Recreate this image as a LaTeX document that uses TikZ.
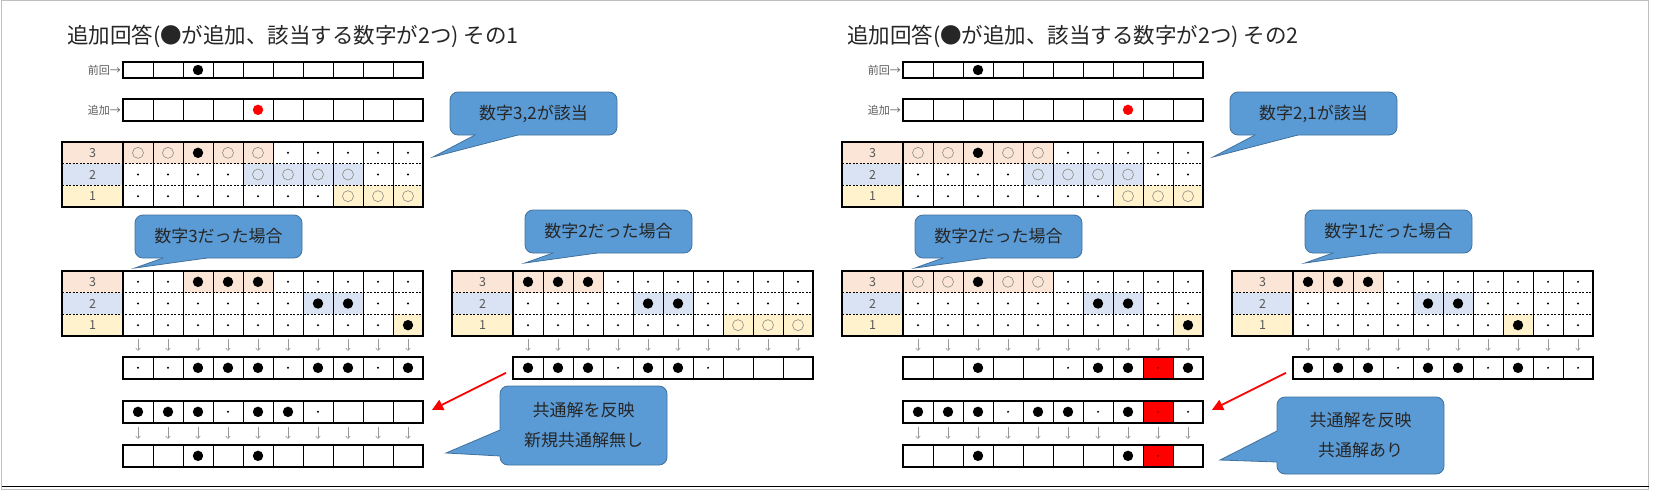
\documentclass[tikz,border=0pt]{standalone}
\usepackage{fontspec}
\setmainfont{Noto Sans CJK JP}
\usepackage{tikz}
\usetikzlibrary{arrows.meta,calc}

\definecolor{shThree}{HTML}{FBE5D6}
\definecolor{shTwo}{HTML}{DAE3F3}
\definecolor{shOne}{HTML}{FFF2CC}
\definecolor{callBlue}{HTML}{5B9BD5}
\definecolor{callEdge}{HTML}{41719C}
\definecolor{labGray}{HTML}{595959}
\definecolor{ringGray}{HTML}{8C8C84}
\colorlet{rowcol}{white}

\tikzset{
  rowbox/.style={draw, line width=2pt, inner sep=0pt, outer sep=0pt, minimum width=300pt},
  tablebox/.style={draw, line width=2.2pt, inner sep=0pt, outer sep=0pt, minimum width=361pt, minimum height=65pt},
  cellline/.style={line width=0.8pt},
  rowsep/.style={line width=0.8pt, dash pattern=on 2pt off 1.5pt},
  colsep/.style={line width=2pt},
  downarr/.style={gray!80, line width=0.6pt, -{Straight Barb[length=2.5pt,width=4.5pt]}},
  redarr/.style={red, line width=1.8pt, -{Triangle[length=11pt,width=11pt]}},
  numlab/.style={text=labGray, font=\fontsize{12.5}{14}\selectfont, inner sep=0pt},
  sidelab/.style={text=labGray, font=\fontsize{11}{13}\selectfont, inner sep=1pt},
  heading/.style={text=black!85, font=\fontsize{21.5}{26}\selectfont, inner sep=0pt},
  callline/.style={draw=callEdge, line width=0.8pt},
  calltext/.style={text=black!85, font=\fontsize{17}{30}\selectfont, align=center, inner sep=0pt},
  % cell marks
  pics/no/.style={code={}},
  pics/dt/.style={code={\fill (0,0) circle (1.1pt);}},
  pics/bk/.style={code={\fill (0,0) circle (5.2pt);}},
  pics/rd/.style={code={\fill[red] (0,0) circle (5.2pt);}},
  pics/sb/.style={code={\fill[rowcol] (-15,-10.83) rectangle (15,10.83); \fill (0,0) circle (5.2pt);}},
  pics/so/.style={code={\fill[rowcol] (-15,-10.83) rectangle (15,10.83); \draw[ringGray, line width=0.6pt] (0,0) circle (5.5pt);}},
  pics/rc/.style={code={\fill[red] (-15,-10.83) rectangle (15,10.83); \fill[black!55!red] (0,0) circle (1pt);}},
}

% one row of ten cells: name, x, y, height, marks
\newcommand{\cellrow}[5]{%
  \foreach \mk [count=\i from 0] in {#5}
    \pic at ({#2+30*\i+15},{#3+#4/2}) {\mk};
  \foreach \i in {1,...,9}
    \draw[cellline] ({#2+30*\i},#3) -- ++(0,#4);
  \node[rowbox, minimum height=#4pt, anchor=north west] (#1) at (#2,#3) {};
}

% table with rows 3,2,1: name, x, y, marks of each row
\newcommand{\numtable}[6]{%
  \fill[shThree] (#2,#3) rectangle ++(61,21.67);
  \fill[shTwo] (#2,{#3+21.67}) rectangle ++(61,21.67);
  \fill[shOne] (#2,{#3+43.33}) rectangle ++(61,21.67);
  \node[numlab] (#1-3) at ({#2+30.5},{#3+10.83}) {3};
  \node[numlab] (#1-2) at ({#2+30.5},{#3+32.5}) {2};
  \node[numlab] (#1-1) at ({#2+30.5},{#3+54.17}) {1};
  \colorlet{rowcol}{shThree}
  \foreach \mk [count=\i from 0] in {#4}
    \pic at ({#2+76+30*\i},{#3+10.83}) {\mk};
  \colorlet{rowcol}{shTwo}
  \foreach \mk [count=\i from 0] in {#5}
    \pic at ({#2+76+30*\i},{#3+32.5}) {\mk};
  \colorlet{rowcol}{shOne}
  \foreach \mk [count=\i from 0] in {#6}
    \pic at ({#2+76+30*\i},{#3+54.17}) {\mk};
  \foreach \i in {1,...,9}
    \draw[cellline] ({#2+61+30*\i},#3) -- ++(0,65);
  \draw[rowsep] (#2,{#3+21.67}) -- ++(361,0);
  \draw[rowsep] (#2,{#3+43.33}) -- ++(361,0);
  \draw[colsep] ({#2+61},#3) -- ++(0,65);
  \node[tablebox, anchor=north west] (#1) at (#2,#3) {};
}

% small arrows under ten cells: x, y
\newcommand{\downrow}[2]{%
  \foreach \i in {0,...,9}
    \draw[downarr] ({#1+30*\i+15},#2) -- ++(0,12);
}

% speech bubble: name, corner, corner, tip, base, base, text
\newcommand{\callout}[7]{%
  \coordinate (#1-c) at ($(#2)!0.5!(#3)$);
  \draw[callline, fill=callBlue, rounded corners=8pt] (#2) rectangle (#3);
  \fill[callBlue] (#5) -- (#4) -- (#6) -- ($(#6)!2.5pt!(#1-c)$) -- ($(#5)!2.5pt!(#1-c)$) -- cycle;
  \draw[callline] (#5) -- (#4) -- (#6);
  \node[calltext] (#1) at (#1-c) {#7};
}

\begin{document}
\begin{tikzpicture}[x=1pt, y=-1pt]
  \useasboundingbox (0,0) rectangle (1653,490);
  % Draw frame
  \draw[gray!50, line width=0.8pt] (1.5,0.5) rectangle (1648.5,489.5);
  \draw[line width=1pt] (1.5,486.5) -- (1648.5,486.5);

  % Draw left case (その1)
  \node[heading, anchor=base west] (titleL) at (67,43) {追加回答(●が追加、該当する数字が2つ) その1};
  \node[sidelab, anchor=east] (prevLabL) at (122,70) {前回→};
  \cellrow{prevL}{123}{62}{16}{no,no,bk,no,no,no,no,no,no,no}
  \node[sidelab, anchor=east] (addLabL) at (122,110) {追加→};
  \cellrow{addL}{123}{99}{21.67}{no,no,no,no,rd,no,no,no,no,no}
  \numtable{candL}{62}{142}{so,so,sb,so,so,dt,dt,dt,dt,dt}{dt,dt,dt,dt,so,so,so,so,dt,dt}{dt,dt,dt,dt,dt,dt,dt,so,so,so}
  \callout{hitL}{450,92}{617,135}{433,157}{475,135}{518,135}{数字3,2が該当}
  % case 3
  \numtable{caseAL}{62}{271}{dt,dt,sb,sb,sb,dt,dt,dt,dt,dt}{dt,dt,dt,dt,dt,dt,sb,sb,dt,dt}{dt,dt,dt,dt,dt,dt,dt,dt,dt,sb}
  \callout{caseAcL}{135,215}{302,258}{135,268}{163,258}{207,258}{数字3だった場合}
  \downrow{123}{339}
  \cellrow{resAL}{123}{357}{21.67}{dt,dt,bk,bk,bk,dt,bk,bk,dt,bk}
  % case 2
  \numtable{caseBL}{452}{271}{sb,sb,sb,dt,dt,dt,dt,dt,dt,dt}{dt,dt,dt,dt,sb,sb,dt,dt,dt,dt}{dt,dt,dt,dt,dt,dt,dt,so,so,so}
  \callout{caseBcL}{525,210}{692,253}{525,263}{553,253}{597,253}{数字2だった場合}
  \downrow{513}{339}
  \cellrow{resBL}{513}{357}{21.67}{bk,bk,bk,dt,bk,bk,dt,no,no,no}
  % merged result
  \cellrow{mergeL}{123}{401}{21.67}{bk,bk,bk,dt,bk,bk,dt,no,no,no}
  \downrow{123}{427}
  \cellrow{finalL}{123}{445}{21.67}{no,no,bk,no,bk,no,no,no,no,no}
  \draw[redarr] ([shift={(-7,5)}]resBL.west) -- ([shift={(9,-2)}]mergeL.east);
  \callout{noteL}{500,386}{667,465}{446,453}{500,430}{500,456}{共通解を反映\\新規共通解無し}

  % Draw right case (その2)
  \begin{scope}[xshift=780pt]
    \node[heading, anchor=base west] (titleR) at (67,43) {追加回答(●が追加、該当する数字が2つ) その2};
    \node[sidelab, anchor=east] (prevLabR) at (122,70) {前回→};
    \cellrow{prevR}{123}{62}{16}{no,no,bk,no,no,no,no,no,no,no}
    \node[sidelab, anchor=east] (addLabR) at (122,110) {追加→};
    \cellrow{addR}{123}{99}{21.67}{no,no,no,no,no,no,no,rd,no,no}
    \numtable{candR}{62}{142}{so,so,sb,so,so,dt,dt,dt,dt,dt}{dt,dt,dt,dt,so,so,so,so,dt,dt}{dt,dt,dt,dt,dt,dt,dt,so,so,so}
    \callout{hitR}{450,92}{617,135}{433,157}{475,135}{518,135}{数字2,1が該当}
    % case 2
    \numtable{caseAR}{62}{271}{so,so,sb,so,so,dt,dt,dt,dt,dt}{dt,dt,dt,dt,dt,dt,sb,sb,dt,dt}{dt,dt,dt,dt,dt,dt,dt,dt,dt,sb}
    \callout{caseAcR}{135,215}{302,258}{135,268}{163,258}{207,258}{数字2だった場合}
    \downrow{123}{339}
    \cellrow{resAR}{123}{357}{21.67}{no,no,bk,no,no,dt,bk,bk,rc,bk}
    % case 1
    \numtable{caseBR}{452}{271}{sb,sb,sb,dt,dt,dt,dt,dt,dt,dt}{dt,dt,dt,dt,sb,sb,dt,dt,dt,dt}{dt,dt,dt,dt,dt,dt,dt,sb,dt,dt}
    \callout{caseBcR}{525,210}{692,253}{525,263}{553,253}{597,253}{数字1だった場合}
    \downrow{513}{339}
    \cellrow{resBR}{513}{357}{21.67}{bk,bk,bk,dt,bk,bk,dt,bk,dt,dt}
    % merged result
    \cellrow{mergeR}{123}{401}{21.67}{bk,bk,bk,dt,bk,bk,dt,bk,rc,dt}
    \downrow{123}{427}
    \cellrow{finalR}{123}{445}{21.67}{no,no,bk,no,no,no,no,bk,rc,no}
    \draw[redarr] ([shift={(-7,5)}]resBR.west) -- ([shift={(9,-2)}]mergeR.east);
    \callout{noteR}{497,397}{664,474}{440,460}{497,431}{497,462}{共通解を反映\\共通解あり}
  \end{scope}
\end{tikzpicture}
\end{document}
